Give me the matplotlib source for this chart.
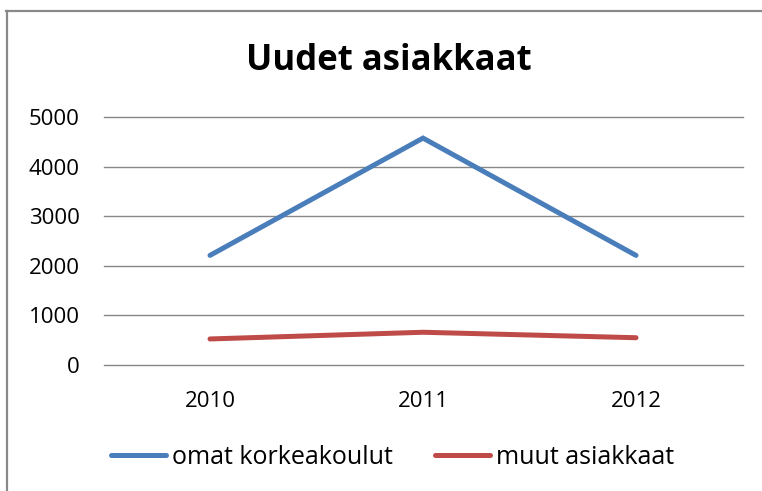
import matplotlib
matplotlib.use("Agg")
import matplotlib.pyplot as plt
from matplotlib.lines import Line2D

years = ["2010", "2011", "2012"]
omat_korkeakoulut = [2210, 4575, 2210]
muut_asiakkaat = [525, 660, 550]
series_names = ["omat korkeakoulut", "muut asiakkaat"]
title = "Uudet asiakkaat"
yticks = [0, 1000, 2000, 3000, 4000, 5000]

plt.rcParams['font.family'] = ['Open Sans', 'DejaVu Sans']

W, H = 762, 491
fig = plt.figure(figsize=(W / 100, H / 100), dpi=100)
fig.patch.set_facecolor('white')

# Outer chart border (top and left visible)
fig.add_artist(Line2D([6.5 / W, 6.5 / W], [0, 1 - 11 / H], transform=fig.transFigure,
                      color='#898989', lw=1.6))
fig.add_artist(Line2D([5.7 / W, 1], [1 - 11 / H, 1 - 11 / H], transform=fig.transFigure,
                      color='#898989', lw=1.6))

ax = fig.add_axes([103.5 / W, 1 - 365 / H, 639 / W, 248 / H])
x = range(len(years))
ax.plot(x, omat_korkeakoulut, color='#4A7EBB', lw=3.6, solid_capstyle='round',
        solid_joinstyle='miter', label=series_names[0])
ax.plot(x, muut_asiakkaat, color='#BE4B48', lw=3.6, solid_capstyle='round',
        solid_joinstyle='miter', label=series_names[1])

ax.set_xlim(-0.5, 2.5)
ax.set_ylim(0, 5000)
ax.set_yticks(yticks)
ax.set_yticklabels([str(v) for v in yticks])
ax.set_xticks(list(x))
ax.set_xticklabels(years)
ax.grid(axis='y', color='#878787', lw=1.0)
for gl in ax.get_ygridlines():
    gl.set_clip_on(False)
ax.set_axisbelow(True)
for s in ax.spines.values():
    s.set_visible(False)
ax.tick_params(axis='both', length=0, labelsize=16, colors='black')
ax.tick_params(axis='y', pad=17)
ax.tick_params(axis='x', pad=19)

fig.text(389 / W, 1 - 70 / H, title, ha='center', va='baseline', fontsize=25,
         fontweight='bold')

leg = fig.legend(loc='center', bbox_to_anchor=(392.5 / W, 1 - 457 / H), ncol=2,
                 frameon=False, fontsize=18, handlelength=2.2, handletextpad=0.25,
                 columnspacing=1.7)

fig.savefig("out.png", dpi=100, facecolor='white')
